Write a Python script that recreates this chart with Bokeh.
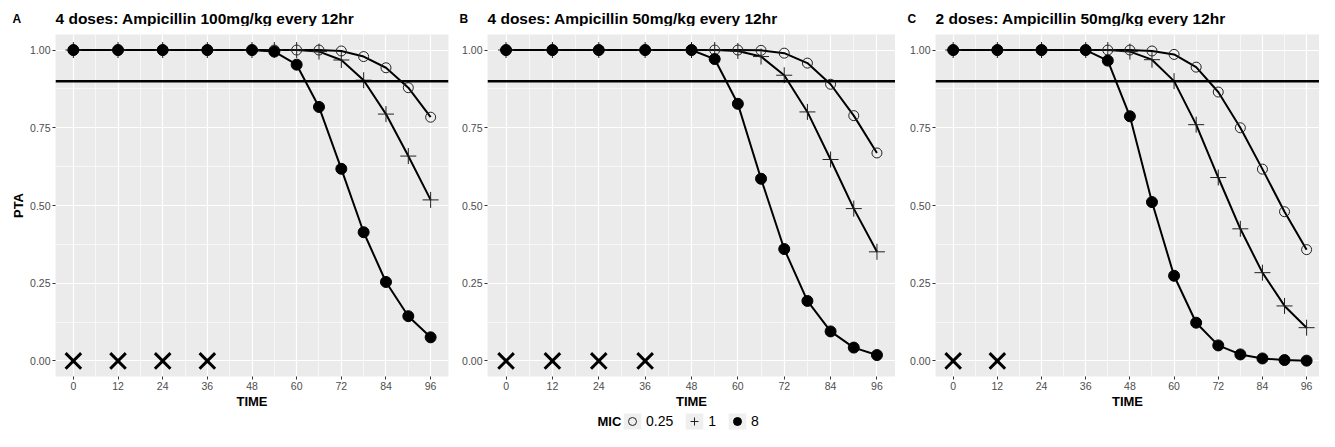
from bokeh.plotting import figure
from bokeh.layouts import row, column
from bokeh.models import Range1d, FixedTicker, Span, Label, Legend, LegendItem
from bokeh.embed import file_html
from bokeh.resources import INLINE

FONT = "Liberation Sans"

# ---------------- data ----------------
time_ab = [0, 12, 24, 36, 48, 54, 60, 66, 72, 78, 84, 90, 96]
time_c = [0, 12, 24, 36, 42, 48, 54, 60, 66, 72, 78, 84, 90, 96]

a_mic025 = [1, 1, 1, 1, 1, 1, 1.0, 1.0, 0.997, 0.979, 0.943, 0.879, 0.784]
a_mic1 = [1, 1, 1, 1, 1, 1.0, 1.0, 0.995, 0.968, 0.903, 0.794, 0.659, 0.518]
a_mic8 = [1, 1, 1, 1, 1, 0.995, 0.953, 0.817, 0.618, 0.414, 0.254, 0.144, 0.076]

b_mic025 = [1, 1, 1, 1, 1, 1.0, 1.0, 0.999, 0.990, 0.958, 0.890, 0.789, 0.669]
b_mic1 = [1, 1, 1, 1, 1, 1.0, 0.997, 0.979, 0.919, 0.801, 0.648, 0.490, 0.351]
b_mic8 = [1, 1, 1, 1, 1, 0.971, 0.827, 0.586, 0.360, 0.193, 0.095, 0.043, 0.019]

c_mic025 = [1, 1, 1, 1, 1, 1, 0.997, 0.986, 0.945, 0.865, 0.750, 0.617, 0.480, 0.358]
c_mic1 = [1, 1, 1, 1, 1, 0.995, 0.969, 0.900, 0.760, 0.590, 0.425, 0.284, 0.177, 0.107]
c_mic8 = [1, 1, 1, 1, 0.966, 0.787, 0.511, 0.274, 0.123, 0.050, 0.021, 0.008, 0.003, 0.001]

dose_a = [0, 12, 24, 36]
dose_b = [0, 12, 24, 36]
dose_c = [0, 12]
dose_level = 0.0
target_pta = 0.9

titles = ["4 doses: Ampicillin 100mg/kg every 12hr",
          "4 doses: Ampicillin 50mg/kg every 12hr",
          "2 doses: Ampicillin 50mg/kg every 12hr"]
letters = ["A", "B", "C"]

x_ticks = [0, 12, 24, 36, 48, 60, 72, 84, 96]
x_minor = [6, 18, 30, 42, 54, 66, 78, 90]
y_ticks = [0.0, 0.25, 0.5, 0.75, 1.0]
y_tick_labels = ["0.00", "0.25", "0.50", "0.75", "1.00"]
y_minor = [0.125, 0.375, 0.625, 0.875]

mic_title = "MIC"
mic_labels = ["0.25", "1", "8"]

TOTAL_W = 1319
HEAD_H = 26
PANEL_H = 385
LEG_H = 20


def make_panel(times, s025, s1, s8, doses, w, bl, br, ylabel, xmax):
    p = figure(width=w, height=PANEL_H,
               x_range=Range1d(-4.8, xmax), y_range=Range1d(-0.05, 1.05),
               output_backend="svg", toolbar_location=None,
               min_border_left=bl, min_border_right=br,
               min_border_top=8, min_border_bottom=28)
    p.background_fill_color = "#EBEBEB"
    p.border_fill_color = "white"
    p.outline_line_color = None

    p.xaxis.ticker = FixedTicker(ticks=x_ticks, minor_ticks=x_minor)
    p.yaxis.ticker = FixedTicker(ticks=y_ticks, minor_ticks=y_minor)
    p.yaxis.major_label_overrides = dict(zip(y_ticks, y_tick_labels))
    for ax in (p.xaxis[0], p.yaxis[0]):
        ax.axis_line_color = None
        ax.major_tick_line_color = "#333333"
        ax.major_tick_in = 0
        ax.major_tick_out = 3
        ax.minor_tick_line_color = None
        ax.major_label_text_font = FONT
        ax.major_label_text_font_size = "10.5px"
        ax.major_label_text_color = "#4D4D4D"
        ax.major_label_standoff = 1
        ax.axis_label_text_font = FONT
        ax.axis_label_text_font_size = "13px"
        ax.axis_label_text_font_style = "bold"
        ax.axis_label_text_color = "black"
        ax.axis_label_standoff = 1
    p.xaxis.axis_label = "TIME"
    if ylabel:
        p.yaxis.axis_label = ylabel

    for g in (p.xgrid[0], p.ygrid[0]):
        g.grid_line_color = "white"
        g.grid_line_width = 1.2
        g.minor_grid_line_color = "white"
        g.minor_grid_line_width = 0.6

    p.add_layout(Span(location=target_pta, dimension="width",
                      line_color="black", line_width=2.5))

    for ys in (s025, s1, s8):
        p.line(times, ys, line_color="black", line_width=2)
    p.scatter(times, s025, marker="circle", size=10, fill_color=None,
              line_color="#222222", line_width=1)
    p.scatter(times, s1, marker="cross", size=16, line_color="#222222", line_width=1)
    p.scatter(times, s8, marker="circle", size=11, fill_color="black", line_color="black")
    p.scatter(doses, [dose_level] * len(doses), marker="x", size=22,
              line_color="black", line_width=3)
    return p


pA = make_panel(time_ab, a_mic025, a_mic1, a_mic8, dose_a, 455, 55, 7, "PTA", 100.8)
pB = make_panel(time_ab, b_mic025, b_mic1, b_mic8, dose_b, 440, 32, 0, None, 100.8)
pC = make_panel(time_c, c_mic025, c_mic1, c_mic8, dose_c, 424, 40, 0, None, 99.5)

# ---------------- header strip: panel letters and titles ----------------
head = figure(width=TOTAL_W, height=HEAD_H, x_range=Range1d(0, 1), y_range=Range1d(0, 1),
              output_backend="svg", toolbar_location=None,
              x_axis_location=None, y_axis_location=None, min_border=0)
head.outline_line_color = None
head.grid.visible = False
letter_x = [12, 459, 907]
title_x = [55, 487, 935]
for lx, tx, letter, title in zip(letter_x, title_x, letters, titles):
    head.add_layout(Label(x=lx, y=8, x_units="screen", y_units="screen", text=letter,
                          text_font=FONT, text_font_size="12px", text_font_style="bold",
                          text_baseline="middle", text_color="black"))
    head.add_layout(Label(x=tx, y=8, x_units="screen", y_units="screen", text=title,
                          text_font=FONT, text_font_size="15.5px", text_font_style="bold",
                          text_baseline="middle", text_color="black"))

# ---------------- legend strip ----------------
leg = figure(width=TOTAL_W, height=LEG_H, x_range=Range1d(0, 1), y_range=Range1d(0, 1),
             output_backend="svg", toolbar_location=None,
             x_axis_location=None, y_axis_location=None, min_border=0)
leg.outline_line_color = None
leg.grid.visible = False
# hidden stand-in renderers (outside the visible range) that only supply legend glyphs
bg = leg.quad(left=[-3], right=[-2], top=[-2], bottom=[-3], fill_color="#EFEFEF", line_color=None)
r025 = leg.scatter(x=[-3], y=[-3], marker="circle", fill_color=None, line_color="#222222", line_width=1)
r1 = leg.scatter(x=[-3], y=[-3], marker="cross", line_color="#222222", line_width=1)
r8 = leg.scatter(x=[-3], y=[-3], marker="circle", fill_color="black", line_color="black")
legend = Legend(items=[LegendItem(label=mic_labels[0], renderers=[bg, r025]),
                       LegendItem(label=mic_labels[1], renderers=[bg, r1]),
                       LegendItem(label=mic_labels[2], renderers=[bg, r8])],
                orientation="horizontal", location=(621, 0),
                glyph_width=22, glyph_height=20, label_standoff=3, spacing=10,
                padding=0, margin=0, border_line_color=None,
                background_fill_alpha=0, label_width=6,
                label_text_font=FONT, label_text_font_size="14px",
                label_text_color="black", label_height=20)
leg.add_layout(legend, "center")
leg.add_layout(Label(x=597, y=10, x_units="screen", y_units="screen", text=mic_title,
                     text_font=FONT, text_font_size="13px", text_font_style="bold",
                     text_baseline="middle", text_color="black"))

layout = column(head, row(pA, pB, pC), leg)
open("out.html", "w").write(file_html(layout, INLINE))
